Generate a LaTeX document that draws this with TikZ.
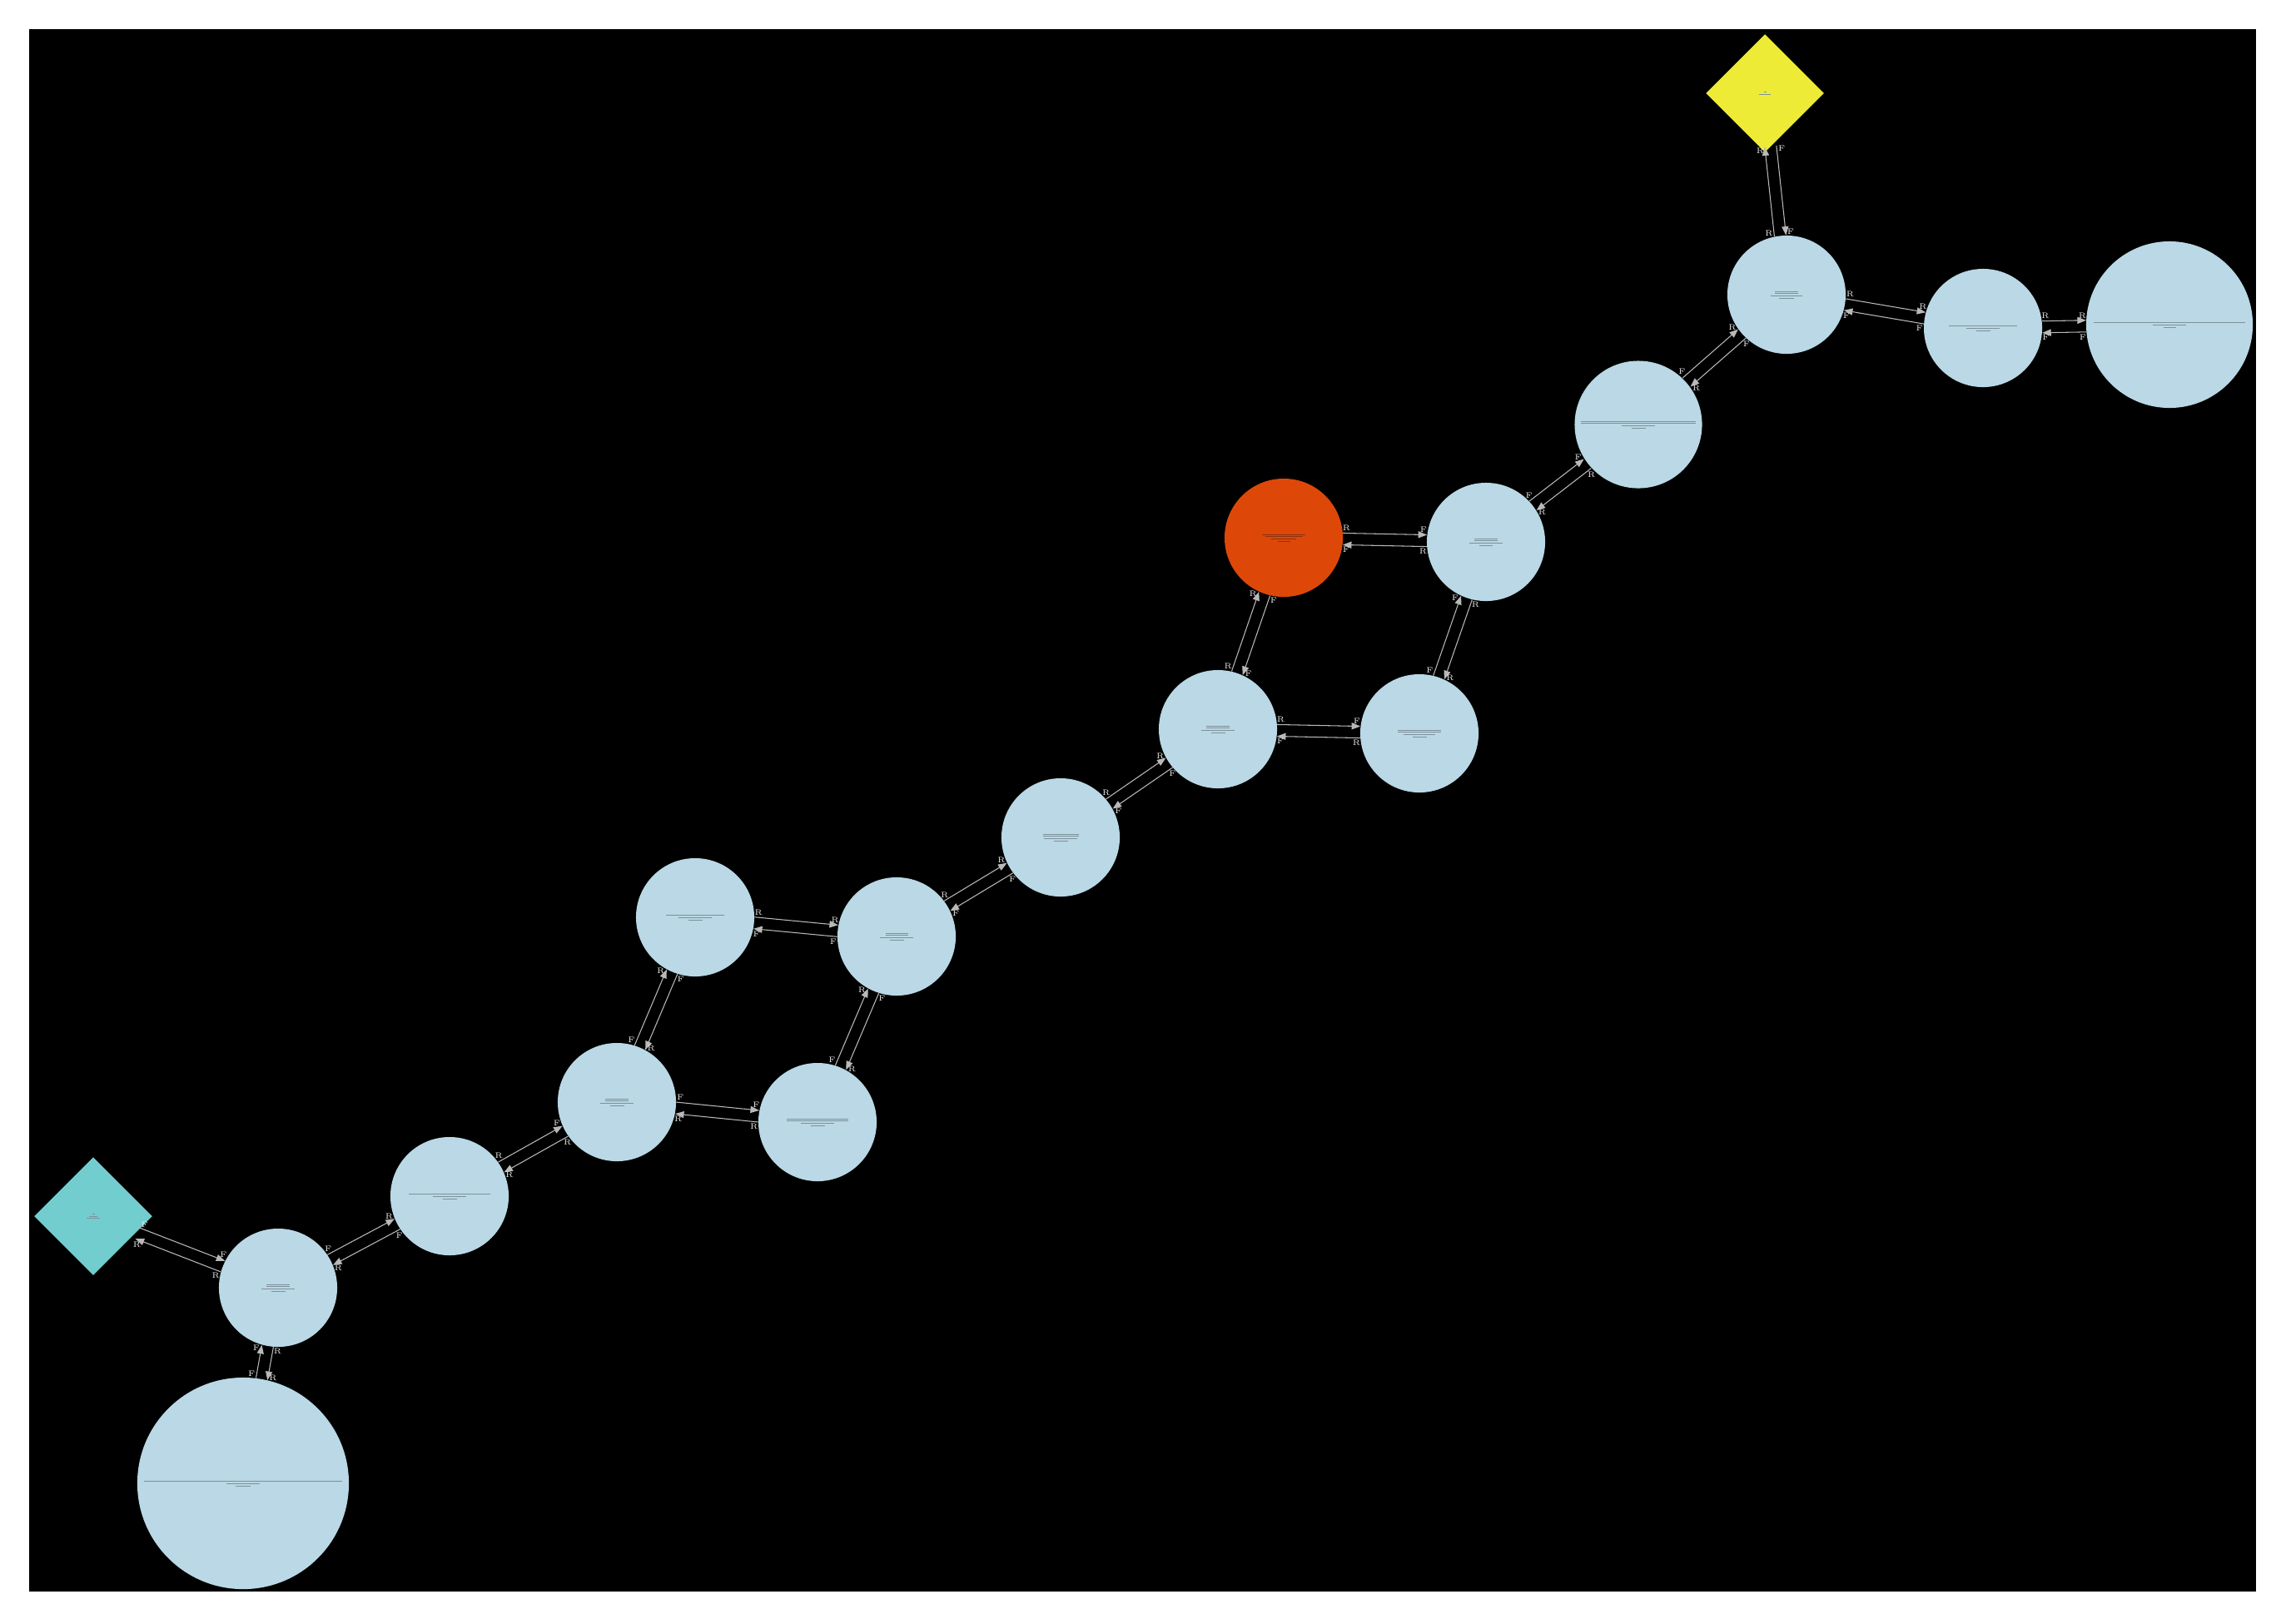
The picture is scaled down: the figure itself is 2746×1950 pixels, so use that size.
\documentclass[tikz,border=0pt]{standalone}
\usetikzlibrary{arrows.meta, calc, shapes.geometric}
\definecolor{segblue}{RGB}{186,216,229}
\definecolor{startyellow}{RGB}{238,235,54}
\definecolor{endcyan}{RGB}{114,205,206}
\definecolor{hitorange}{RGB}{221,72,9}
\definecolor{edgegray}{RGB}{185,185,185}
\definecolor{labelwhite}{RGB}{235,235,235}
\definecolor{seqtext}{RGB}{125,145,155}
\definecolor{seqred}{RGB}{140,50,15}
% one printed line of a node text (too small to read)
\newcommand{\tline}[2][0.25pt]{\rule{#2}{#1}}

\begin{document}
\begin{tikzpicture}[
  x=0.01cm, y=-0.01cm,
  seg/.style={
    circle, fill=segblue, inner sep=0pt,
    minimum size=1.42cm, align=center, text=seqtext,
    font=\fontsize{1pt}{0.75pt}\selectfont
  },
  key/.style={
    diamond, inner sep=0pt, minimum width=1.42cm, minimum height=1.42cm,
    align=center, text=seqtext, font=\fontsize{1pt}{0.75pt}\selectfont
  },
  fr/.style={-{Triangle[length=3pt, width=2.3pt]}, draw=edgegray, line width=0.3pt},
  elab/.style={font=\fontsize{2.7pt}{3pt}\selectfont, text=labelwhite, inner sep=0pt},
]

%% Canvas
\useasboundingbox (0,0) rectangle (2746,1950);
\fill[white] (0,0) rectangle (2746,1950);
\fill[black] (35,35) rectangle (2710,1912);

%% Start / end keys
\node[key, fill=startyellow] (yel) at (2120,112) {\tline{0.03cm}\\\tline{0.14cm}};
\node[key, fill=endcyan]     (cya) at (112,1461) {\tline{0.03cm}\\\tline{0.10cm}\\\tline{0.15cm}};

%% Segments
\node[seg] (A) at (2146,354) {\tline{0.28cm}\\\tline{0.28cm}\\\tline{0.38cm}\\\tline{0.18cm}};
\node[seg] (B) at (2382,394) {\tline[0.5pt]{0.82cm}\\\tline{0.40cm}\\\tline{0.17cm}};
\node[seg, minimum size=2cm] (C) at (2606,390) {\tline[0.5pt]{1.82cm}\\\tline{0.40cm}\\\tline{0.15cm}};
\node[seg, minimum size=1.53cm] (D) at (1968,510) {\tline{1.38cm}\\\tline{1.38cm}\\\tline{0.40cm}\\\tline{0.17cm}};
\node[seg, fill=hitorange, text=seqred] (orn) at (1542,646) {\tline{0.52cm}\\\tline{0.45cm}\\\tline{0.30cm}\\\tline{0.15cm}};
\node[seg] (F) at (1785,651) {\tline{0.28cm}\\\tline{0.28cm}\\\tline{0.40cm}\\\tline{0.16cm}};
\node[seg] (G) at (1463,876) {\tline{0.28cm}\\\tline{0.28cm}\\\tline{0.40cm}\\\tline{0.17cm}};
\node[seg] (H) at (1705,881) {\tline{0.52cm}\\\tline{0.52cm}\\\tline{0.38cm}\\\tline{0.17cm}};
\node[seg] (I) at (1274,1006) {\tline{0.43cm}\\\tline{0.43cm}\\\tline{0.40cm}\\\tline{0.17cm}};
\node[seg] (J) at (835,1102) {\tline[0.5pt]{0.70cm}\\\tline{0.40cm}\\\tline{0.17cm}};
\node[seg] (K) at (1077,1125) {\tline{0.27cm}\\\tline{0.27cm}\\\tline{0.40cm}\\\tline{0.17cm}};
\node[seg] (L) at (741,1324) {\tline{0.28cm}\\\tline{0.28cm}\\\tline{0.40cm}\\\tline{0.17cm}};
\node[seg] (M) at (982,1348) {\tline{0.73cm}\\\tline{0.73cm}\\\tline{0.40cm}\\\tline{0.17cm}};
\node[seg] (N) at (540,1437) {\tline[0.5pt]{0.97cm}\\\tline{0.40cm}\\\tline{0.17cm}};
\node[seg] (O) at (334,1547) {\tline{0.28cm}\\\tline{0.28cm}\\\tline{0.40cm}\\\tline{0.17cm}};
\node[seg, minimum size=2.54cm] (P) at (292,1782) {\tline[0.5pt]{2.38cm}\\\tline{0.40cm}\\\tline{0.17cm}};

%% Links: each pair has one edge each way, offset to the left of travel
\foreach \na/\nb/\ra/\rb/\tlab/\hlab in {
    yel/A/0.64cm/0.71cm/F/F, A/yel/0.71cm/0.64cm/R/R,
    A/B/0.71cm/0.71cm/R/R,   B/A/0.71cm/0.71cm/F/F,
    B/C/0.71cm/1.0cm/R/R,    C/B/1.0cm/0.71cm/F/F,
    A/D/0.71cm/0.77cm/F/R,   D/A/0.77cm/0.71cm/F/R,
    D/F/0.77cm/0.71cm/R/R,   F/D/0.71cm/0.77cm/F/F,
    orn/F/0.71cm/0.71cm/R/F, F/orn/0.71cm/0.71cm/R/F,
    orn/G/0.71cm/0.71cm/F/F, G/orn/0.71cm/0.71cm/R/R,
    F/H/0.71cm/0.71cm/R/R,   H/F/0.71cm/0.71cm/F/F,
    G/H/0.71cm/0.71cm/R/F,   H/G/0.71cm/0.71cm/R/F,
    G/I/0.71cm/0.71cm/F/F,   I/G/0.71cm/0.71cm/R/R,
    I/K/0.71cm/0.71cm/F/F,   K/I/0.71cm/0.71cm/R/R,
    J/K/0.71cm/0.71cm/R/R,   K/J/0.71cm/0.71cm/F/F,
    J/L/0.71cm/0.71cm/F/R,   L/J/0.71cm/0.71cm/F/R,
    K/M/0.71cm/0.71cm/F/R,   M/K/0.71cm/0.71cm/F/R,
    L/M/0.71cm/0.71cm/F/F,   M/L/0.71cm/0.71cm/R/R,
    L/N/0.71cm/0.71cm/R/R,   N/L/0.71cm/0.71cm/R/F,
    N/O/0.71cm/0.71cm/F/R,   O/N/0.71cm/0.71cm/F/R,
    O/P/0.71cm/1.27cm/R/R,   P/O/1.27cm/0.71cm/F/F,
    cya/O/0.57cm/0.71cm/F/F, O/cya/0.71cm/0.57cm/R/R} {
  \coordinate (p0) at ($(\na)!2pt!90:(\nb)$);
  \coordinate (q0) at ($(\nb)!2pt!-90:(\na)$);
  \coordinate (p1) at ($(p0)!\ra!(q0)$);
  \coordinate (q1) at ($(q0)!\rb!(p0)$);
  \coordinate (pl) at ($(p1)!1.2pt!(q1)$);
  \coordinate (ql) at ($(q1)!1.2pt!(p1)$);
  \draw[fr] (p1) -- (q1);
  \node[elab] at ($(pl)!1.7pt!90:(q1)$) {\tlab};
  \node[elab] at ($(ql)!1.7pt!-90:(p1)$) {\hlab};
}

\end{tikzpicture}
\end{document}
